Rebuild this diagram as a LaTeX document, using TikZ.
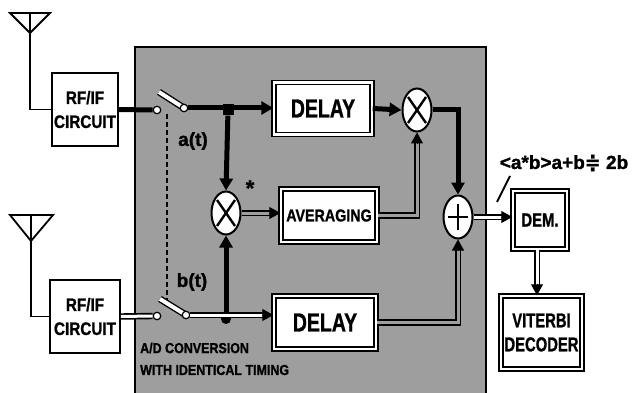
\documentclass[tikz,border=0pt]{standalone}
\usepackage{fontspec}
\usepackage{graphicx}
\setmainfont{Liberation Sans}[BoldFeatures={FakeBold=1.3}]
\newfontfamily\symfont{DejaVu Sans}[BoldFeatures={FakeBold=1.3}]
\usetikzlibrary{shapes.geometric,arrows.meta,calc}
\definecolor{bgray}{gray}{0.62}
\newcommand\sx[2]{\scalebox{#1}[1]{#2}}
\begin{document}
\begin{tikzpicture}[x=1pt,y=-1pt,
  frame/.style={draw, fill=white, line width=1.6pt, inner sep=0pt},
  dframe/.style={draw, fill=white, line width=1.4pt, double=white, double distance=2.4pt, inner sep=0pt},
  mult/.style={ellipse, draw, fill=white, line width=2pt, minimum width=29pt, minimum height=43pt, inner sep=0pt},
  contact/.style={circle, draw, fill=white, line width=1.2pt, minimum size=7.5pt, inner sep=0pt},
  thk/.style={line width=5pt},
  dblw/.style={line width=1.7pt, double=white, double distance=3pt},
  dblg/.style={line width=1.7pt, double=bgray, double distance=3pt},
  arr/.style={-{Triangle[length=12pt,width=13pt]}},
  tipo/.style={-{Triangle[length=11pt,width=12pt]}, line width=1pt},
  ftbig/.style={font=\bfseries\fontsize{26}{26}\selectfont},
  ftmid/.style={font=\bfseries\fontsize{18}{24}\selectfont},
  ftsmall/.style={font=\bfseries\fontsize{14.5}{14.5}\selectfont},
]
\useasboundingbox (0,0) rectangle (632,393);
% shaded A/D area
\fill[bgray] (135,47) rectangle (486,393);
\draw[line width=1.4pt] (135,393) -- (135,47) -- (486,47) -- (486,393);

% antennas
\draw[line width=1.8pt] (10,13) -- (50,13) -- (30,33) -- cycle;
\coordinate (ant1) at (30,13);
\draw[line width=1.8pt] (10,215) -- (53,215) -- (31,241) -- cycle;
\coordinate (ant2) at (31,215);

% RF/IF boxes
\node[frame, minimum width=66pt, minimum height=73pt, ftmid, align=center] (rf1) at (85,109.5) {\sx{0.85}{RF/IF}\\\sx{0.85}{CIRCUIT}};
\node[frame, minimum width=70pt, minimum height=73pt, ftmid, align=center] (rf2) at (85,316.5) {\sx{0.85}{RF/IF}\\\sx{0.85}{CIRCUIT}};
\draw[line width=1.8pt] (ant1) |- (rf1.west);
\draw[line width=1.8pt] (ant2) |- (rf2.west);

% blocks
\node[dframe, minimum width=98pt, minimum height=52pt, ftbig] (delay1) at (323,108.5) {\sx{0.75}{DELAY}};
\node[dframe, minimum width=96pt, minimum height=53pt, font=\bfseries\fontsize{17}{17}\selectfont] (avg) at (329,215.5) {\sx{0.84}{AVERAGING}};
\node[dframe, minimum width=102pt, minimum height=53pt, ftbig] (delay2) at (325,322.5) {\sx{0.75}{DELAY}};
\node[dframe, minimum width=54pt, minimum height=58pt, font=\bfseries\fontsize{19}{19}\selectfont] (dem) at (540,220) {\sx{0.78}{DEM.}};
\node[dframe, minimum width=81pt, minimum height=73pt, font=\bfseries\fontsize{20}{24}\selectfont, align=center] (vit) at (541.5,332.5) {\sx{0.74}{VITERBI}\\\sx{0.74}{DECODER}};

% multipliers and adder
\node[mult] (m1) at (226,213) {};
\node[mult] (m2) at (417,110) {};
\node[mult] (add) at (458,217) {};
\draw[line width=2.4pt] ($(m1)+(-9,-13)$) -- ($(m1)+(9,13)$) ($(m1)+(-9,13)$) -- ($(m1)+(9,-13)$);
\draw[line width=2.4pt] ($(m2)+(-9,-13)$) -- ($(m2)+(9,13)$) ($(m2)+(-9,13)$) -- ($(m2)+(9,-13)$);
\draw[line width=2.4pt] ($(add)+(-10,0)$) -- ($(add)+(10,0)$) ($(add)+(0,-13)$) -- ($(add)+(0,13)$);

% switches
\coordinate (lev1) at (159,92);
\coordinate (sw1bc) at (184,108);
\draw[line width=1.4pt, double=white, double distance=4pt] (lev1) -- (sw1bc);
\node[contact] (sw1a) at (157,110) {};
\node[contact] (sw1b) at (sw1bc) {};
\coordinate (lev2) at (160,299);
\coordinate (sw2bc) at (186,315);
\draw[line width=1.4pt, double=white, double distance=4pt] (lev2) -- (sw2bc);
\node[contact] (sw2a) at (157,316) {};
\node[contact] (sw2b) at (sw2bc) {};
\coordinate (dsh1) at (167,114);
\coordinate (dsh2) at (167,300);
\draw[line width=1.3pt, dash pattern=on 5pt off 3pt] (dsh1) -- (dsh2);

% junctions
\node[fill, minimum size=11pt, inner sep=0pt] (j1) at (228,110) {};
\node[fill, circle, minimum size=10pt, inner sep=0pt] (j2) at (226,319) {};

% a(t) path
\draw[thk] (rf1.east) -- (sw1a.west);
\draw[thk, arr] (sw1b.east) -- (delay1.west |- sw1b.east);
\draw[thk, arr] (j1) -- (m1.north);
\draw[thk, arr] (j2) -- (m1.south);
\draw[thk, arr] (delay1.east) -- (m2.west);
\draw[thk, arr] (m2.east) -| (add.north);

% b(t) path
\draw[dblw] (rf2.east) -- (sw2a.west);
\draw[dblw, shorten >=10pt] (sw2b.east) -- (delay2.west |- sw2b.east);
\draw[tipo] ($(delay2.west |- sw2b.east)+(-11,0)$) -- (delay2.west |- sw2b.east);

% averaging path
\draw[dblg, shorten >=10pt] (m1.east) -- (avg.west |- m1.east);
\draw[tipo] ($(avg.west |- m1.east)+(-11,0)$) -- (avg.west |- m1.east);
\draw[dblg, shorten >=10pt] (avg.east) -| (m2.south);
\draw[tipo] ($(m2.south)+(0,11)$) -- (m2.south);

% delay2 to adder
\draw[dblg, shorten >=10pt] (delay2.east) -| (add.south);
\draw[tipo] ($(add.south)+(0,11)$) -- (add.south);

% adder to DEM, DEM to Viterbi
\draw[dblw, shorten >=10pt] (add.east) -- (dem.west |- add.east);
\draw[tipo] ($(dem.west |- add.east)+(-11,0)$) -- (dem.west |- add.east);
\draw[dblw, shorten >=10pt] (dem.south -| 537,0) -- (vit.north -| 537,0);
\draw[tipo] ($(vit.north -| 537,0)+(0,-11)$) -- (vit.north -| 537,0);

% labels
\node[font=\bfseries\fontsize{19}{19}\selectfont] (la) at (193,141) {a(t)};
\node[font=\bfseries\fontsize{19}{19}\selectfont] (lb) at (192,282) {b(t)};
\node[font=\bfseries\fontsize{22}{22}\selectfont] (star) at (250,188) {*};
\node[ftsmall, anchor=west, inner sep=0pt] (ad1) at (140,348) {\sx{0.86}{A/D CONVERSION}};
\node[ftsmall, anchor=west, inner sep=0pt] (ad2) at (140,370) {\sx{0.86}{WITH IDENTICAL TIMING}};
\node[font=\bfseries\fontsize{19}{19}\selectfont, inner sep=0pt] (eq) at (564,163) {\sx{1.0}{<a*b>a+b{\symfont\bfseries ≑} 2b}};
\coordinate (eqp1) at (510,176);
\coordinate (eqp2) at (497,202);
\draw[line width=1.8pt] (eqp1) -- (eqp2);
\end{tikzpicture}
\end{document}
